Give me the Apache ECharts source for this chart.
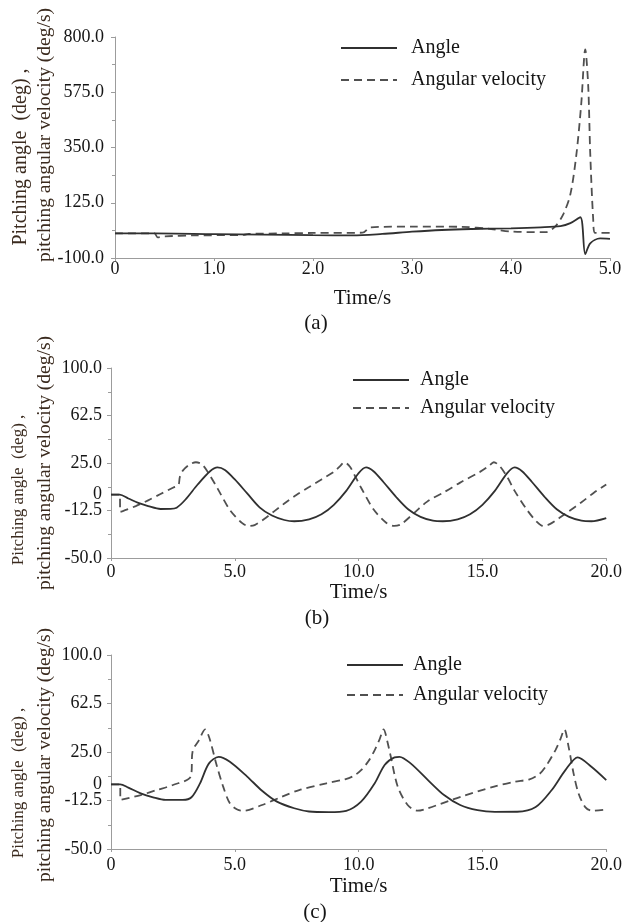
<!DOCTYPE html>
<html>
<head>
<meta charset="utf-8">
<script src="https://cdn.jsdelivr.net/npm/echarts/dist/echarts.min.js"></script>
<style>
html, body { margin: 0; padding: 0; background: #fff; }
#main { width: 625px; height: 922px; }
</style>
</head>
<body>
<div id="main"></div>
<script>
// (a) 0 - 5 s
var aAngleT = [0, 0.4, 1.0, 1.5, 2.0, 2.4, 2.7, 3.0, 3.3, 3.6, 4.0, 4.3, 4.5, 4.6, 4.7, 4.75, 4.8, 4.9, 5.0];
var aAngleV = [0, 0, -3, -5, -7, -8, -2, 7, 14, 18, 21, 25, 30, 42, 66, -84, -40, -20, -22];
var aVelT = [0, 0.4, 0.43, 0.5, 0.8, 1.3, 1.35, 1.7, 2.0, 2.5, 2.58, 3.0, 3.5, 3.8, 4.0, 4.35, 4.45, 4.53, 4.6, 4.66, 4.71, 4.75, 4.78, 4.8, 4.83, 4.85, 5.0];
var aVelV = [0, 0, -16, -12, -8, -6, -2, 0, 2, 3, 25, 28, 27, 18, 8, 5, 30, 80, 160, 320, 530, 750, 600, 330, 60, 2, 2];

// (b) 0 - 20 s
var bAngleT = [0, 0.35, 0.7, 1.1, 1.5, 2.0, 2.4, 2.65, 3.0, 3.5, 4.0, 4.3, 4.6, 5.0, 5.5, 6.0, 6.5, 7.0, 7.4, 8.0, 8.5, 9.0, 9.5, 10.0, 10.3, 10.6, 11.0, 11.5, 12.0, 12.5, 13.0, 13.4, 14.0, 14.5, 15.0, 15.5, 16.0, 16.3, 16.6, 17.0, 17.5, 18.0, 18.5, 19.0, 19.4, 20.0];
var bAngleV = [0, 0, -3, -6.5, -9, -11.3, -11.2, -10.3, -4, 8, 18.5, 21.5, 19.5, 12, 1, -10, -16.5, -20, -21, -19.5, -15.5, -8, 3, 17, 21.5, 18.5, 10, -1.5, -11.5, -17.5, -20.5, -21, -19.5, -15.5, -8, 3, 17, 21.5, 18.5, 10, -1.5, -11.5, -17.5, -20.5, -21, -18.5];
var bVelT = [0, 0.35, 0.38, 1.0, 1.5, 2.0, 2.5, 2.72, 2.78, 2.9, 3.15, 3.43, 3.7, 4.0, 4.3, 4.8, 5.3, 5.55, 5.8, 6.2, 6.6, 7.0, 7.5, 8.0, 8.5, 9.0, 9.25, 9.42, 9.65, 9.9, 10.1, 10.6, 11.1, 11.43, 11.7, 12.1, 12.77, 13.5, 14.1, 14.9, 15.25, 15.46, 15.7, 16.0, 16.3, 16.8, 17.2, 17.45, 17.7, 18.1, 18.5, 19.0, 19.5, 20.0];
var bVelV = [0, 0, -13.5, -9, -4.5, 0.5, 5.5, 7.5, 14, 19, 23.5, 25.6, 23.5, 15, 5, -12, -22.5, -24.7, -24, -19, -13, -7, 0, 6, 12, 18, 22.5, 25.6, 22, 13, 5.5, -11.5, -22, -24.7, -23.5, -17, -5.5, 2.5, 9.5, 18, 22.5, 25.6, 22.5, 14, 3, -12, -21.5, -24.7, -23.5, -18.5, -13, -6, 1.5, 8];

// (c) 0 - 20 s
var cAngleT = [0, 0.37, 0.7, 1.2, 1.7, 2.2, 2.9, 3.25, 3.6, 3.95, 4.35, 4.8, 5.5, 6.1, 6.7, 7.4, 8.0, 8.8, 9.5, 10.1, 10.65, 11.05, 11.45, 11.65, 12.1, 12.8, 13.45, 14.1, 14.8, 15.5, 16.4, 17.15, 17.8, 18.35, 18.85, 19.4, 20.0];
var cAngleV = [0, 0, -2.5, -7, -10, -12, -12, -10, 1, 16, 21.3, 17.5, 6, -5, -13.4, -18.5, -21, -21.5, -20.5, -13.4, 0.8, 15, 20.9, 21.3, 16.2, 3.3, -8.3, -16, -20, -21.3, -21.2, -17.6, -4.4, 11, 20.9, 13.6, 3.3];
var cVelT = [0, 0.37, 0.38, 1.2, 1.85, 2.5, 3.22, 3.3, 3.55, 3.8, 3.97, 4.25, 4.53, 4.8, 5.1, 5.35, 6.1, 6.9, 7.6, 8.7, 9.45, 9.8, 10.1, 10.4, 10.65, 10.85, 11.01, 11.15, 11.3, 11.58, 11.98, 12.38, 12.78, 14.13, 15.47, 16.3, 16.9, 17.3, 17.55, 17.95, 18.15, 18.31, 18.48, 18.68, 18.88, 19.15, 19.42, 20.0];
var cVelV = [0, 0, -12, -8.3, -4.4, -0.5, 6, 26, 34, 42.5, 36, 16, -1.8, -14.7, -19.5, -20.4, -16, -9.6, -4.4, 0.8, 3.9, 6.5, 11, 18, 26.5, 35, 42.5, 34, 21.3, -1.8, -16, -20.4, -18.6, -9.6, -1.8, 2, 3.9, 8, 13.6, 26.5, 35, 42.5, 29, 8.5, -7, -17.6, -20.4, -19.4];

var seriesNames = ['Angle', 'Angular velocity'];
var panelLabels = ['(a)', '(b)', '(c)'];
var yTitle1 = 'Pitching angle  (deg) ,';
var yTitle2 = 'pitching angular velocity (deg/s)';

var serif = '"Liberation Serif", "Times New Roman", serif';
var axisGray = '#9c9c9c';
var txt = '#151515';

function zip(t, v) {
    return t.map(function(x, i) { return [x, v[i]]; });
}

function fmt1(v) {
    return v === 0 ? '0' : v.toFixed(1);
}

var myChart = echarts.init(document.getElementById('main'), null, {renderer: 'canvas'});

var grids = [
    {left: 115, right: 15, top: 37, height: 221},
    {left: 111, right: 17, top: 368, height: 190},
    {left: 111, right: 17, top: 655, height: 194}
];

var xAxis = [], yAxis = [];
var xMax = [5, 20, 20], xInt = [1, 5, 5], labelMargin = [2, 5, 7], nameGaps = [30, 24, 27];

for (var i = 0; i < 3; i++) {
    xAxis.push({
        gridIndex: i,
        type: 'value',
        min: 0,
        max: xMax[i],
        interval: xInt[i],
        axisLine: {onZero: false, lineStyle: {color: axisGray, width: 1}},
        axisTick: {show: true, length: 3, lineStyle: {color: axisGray}},
        axisLabel: {formatter: fmt1, fontFamily: serif, fontSize: 18, color: txt, margin: labelMargin[i]},
        splitLine: {show: false},
        name: 'Time/s',
        nameLocation: 'middle',
        nameGap: nameGaps[i],
        nameTextStyle: {fontFamily: serif, fontSize: 21, color: txt}
    });
}

// (a) y axis
yAxis.push({
    gridIndex: 0,
    type: 'value',
    position: 'left',
    min: -100,
    max: 800,
    interval: 225,
    axisLine: {show: true, onZero: false, lineStyle: {color: axisGray, width: 1}},
    axisTick: {show: true, length: 4, lineStyle: {color: axisGray}},
    minorTick: {show: true, splitNumber: 2, length: 3, lineStyle: {color: axisGray}},
    axisLabel: {formatter: fmt1, fontFamily: serif, fontSize: 18, color: txt, margin: 11},
    splitLine: {show: false}
});

// (b), (c) y axes: ticks every 37.5 plus a separate "0" label
[1, 2].forEach(function(g) {
    yAxis.push({
        gridIndex: g,
        type: 'value',
        position: 'left',
        min: -50,
        max: 100,
        interval: 37.5,
        axisLine: {show: true, onZero: false, lineStyle: {color: axisGray, width: 1}},
        axisTick: {show: true, length: 4, lineStyle: {color: axisGray}},
        minorTick: {show: true, splitNumber: 2, length: 3, lineStyle: {color: axisGray}},
        axisLabel: {formatter: fmt1, fontFamily: serif, fontSize: 18, color: txt, margin: 9},
        splitLine: {show: false}
    });
});
[1, 2].forEach(function(g) {
    yAxis.push({
        gridIndex: g,
        type: 'value',
        position: 'left',
        offset: 0,
        min: -50,
        max: 100,
        interval: 50,
        axisLine: {show: false, onZero: false},
        axisTick: {show: false},
        axisLabel: {
            formatter: function(v) { return v === 0 ? '0' : ''; },
            fontFamily: serif, fontSize: 18, color: txt, margin: 9
        },
        splitLine: {show: false}
    });
});

var angleData = [zip(aAngleT, aAngleV), zip(bAngleT, bAngleV), zip(cAngleT, cAngleV)];
var velData = [zip(aVelT, aVelV), zip(bVelT, bVelV), zip(cVelT, cVelV)];

var series = [];
for (var k = 0; k < 3; k++) {
    series.push({
        name: seriesNames[0],
        type: 'line',
        xAxisIndex: k,
        yAxisIndex: k,
        data: angleData[k],
        symbol: 'none',
        smooth: 0.3,
        lineStyle: {color: '#303030', width: 1.8, type: 'solid'},
        itemStyle: {color: '#303030'},
        z: 3
    });
    series.push({
        name: seriesNames[1],
        type: 'line',
        xAxisIndex: k,
        yAxisIndex: k,
        data: velData[k],
        symbol: 'none',
        smooth: 0.3,
        lineStyle: {color: '#505050', width: 1.8, type: [8, 5]},
        itemStyle: {color: '#505050'},
        z: 2
    });
}

var legendPos = [
    {left: 340, top: 36, gap: 8, pad: 9},
    {left: 352, top: 368, gap: 4, pad: 6},
    {left: 346, top: 653, gap: 6, pad: 5}
];
var legend = legendPos.map(function(p) {
    return {
        data: seriesNames,
        orient: 'vertical',
        left: p.left,
        top: p.top,
        padding: 0,
        itemGap: p.gap,
        itemWidth: 56,
        itemHeight: 14,
        selectedMode: false,
        itemStyle: {opacity: 0},
        textStyle: {fontFamily: serif, fontSize: 20, color: txt, lineHeight: 24, padding: [0, 0, 0, p.pad]}
    };
});

// y titles (two lines, rotated) and panel captions
var yTitles = [
    {x1: 21, y1: 157, s1: 20, x2: 45, y2: 135},
    {x1: 19, y1: 490, s1: 17, x2: 45, y2: 463},
    {x1: 19, y1: 783, s1: 17, x2: 45, y2: 755}
];
var captionPos = [[316, 323], [317, 618], [315, 912]];
var graphic = [];
yTitles.forEach(function(t) {
    graphic.push({
        type: 'text', x: t.x1, y: t.y1, rotation: Math.PI / 2,
        style: {text: yTitle1, fontFamily: serif, fontSize: t.s1, fill: '#3a2a1e', textAlign: 'center', textVerticalAlign: 'middle'}
    });
    graphic.push({
        type: 'text', x: t.x2, y: t.y2, rotation: Math.PI / 2,
        style: {text: yTitle2, fontFamily: serif, fontSize: 19.5, fill: '#3a2a1e', textAlign: 'center', textVerticalAlign: 'middle'}
    });
});
captionPos.forEach(function(p, i) {
    graphic.push({
        type: 'text', x: p[0], y: p[1],
        style: {text: panelLabels[i], fontFamily: serif, fontSize: 21, fill: txt, textAlign: 'center', textVerticalAlign: 'middle'}
    });
});

var option = {
    backgroundColor: '#fff',
    animation: false,
    grid: grids,
    xAxis: xAxis,
    yAxis: yAxis,
    legend: legend,
    graphic: graphic,
    series: series
};

myChart.setOption(option);
</script>
</body>
</html>
